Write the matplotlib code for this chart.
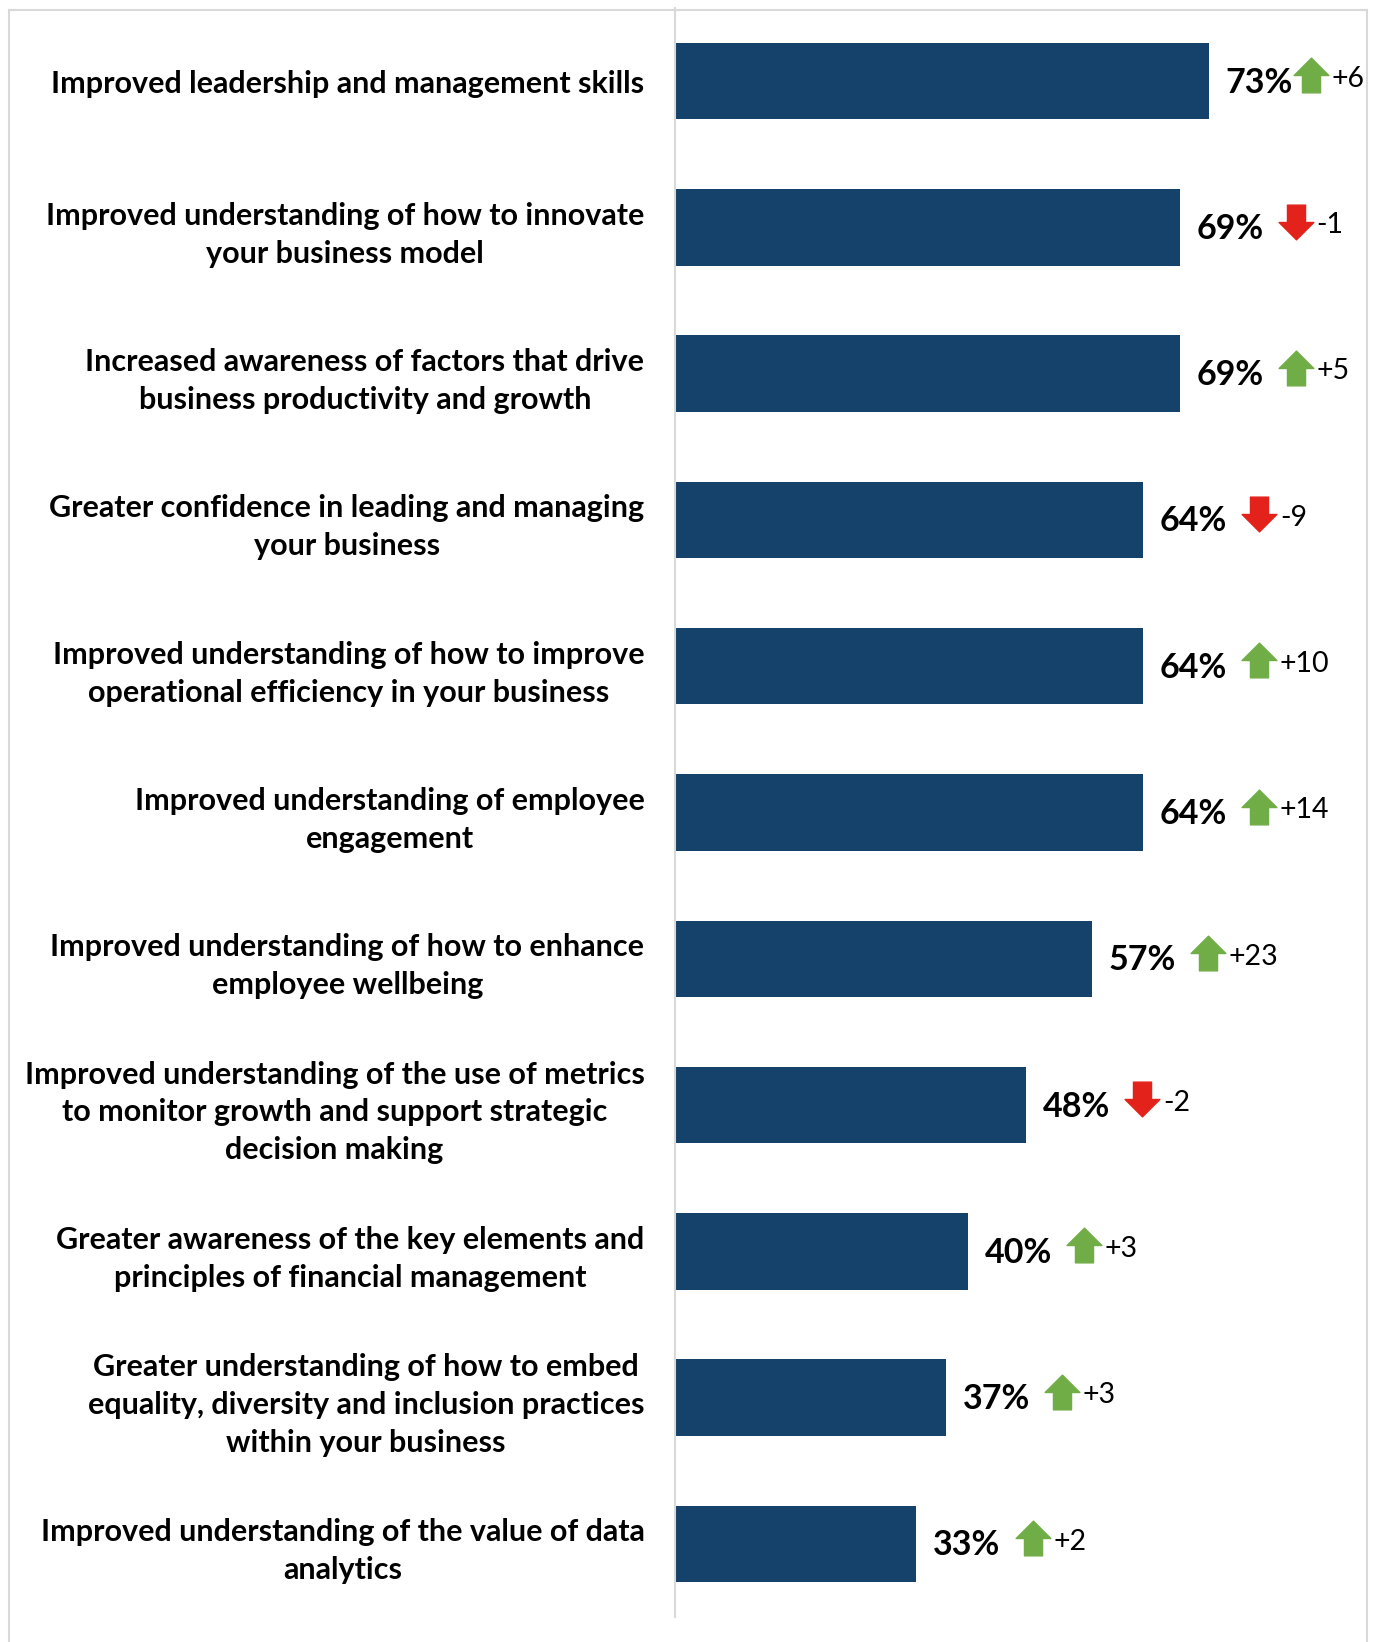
import matplotlib.pyplot as plt
from matplotlib.path import Path
from matplotlib.lines import Line2D

plt.rcParams['font.family'] = ['Lato', 'DejaVu Sans']

categories = [
    "Improved leadership and management skills",
    "Improved understanding of how to innovate\nyour business model",
    "Increased awareness of factors that drive\nbusiness productivity and growth",
    "Greater confidence in leading and managing\nyour business",
    "Improved understanding of how to improve\noperational efficiency in your business",
    "Improved understanding of employee\nengagement",
    "Improved understanding of how to enhance\nemployee wellbeing",
    "Improved understanding of the use of metrics\nto monitor growth and support strategic\ndecision making",
    "Greater awareness of the key elements and\nprinciples of financial management",
    "Greater understanding of how to embed\nequality, diversity and inclusion practices\nwithin your business",
    "Improved understanding of the value of data\nanalytics",
]
values = [73, 69, 69, 64, 64, 64, 57, 48, 40, 37, 33]
changes = [6, -1, 5, -9, 10, 14, 23, -2, 3, 3, 2]

BAR = "#15426A"
UP = "#70AD47"
DOWN = "#E3221B"
GRID = "#D9D9D9"

# block arrow markers (head on top half, shaft below)
up_verts = [(-0.26, -0.5), (0.26, -0.5), (0.26, 0.0), (0.5, 0.0), (0.0, 0.5),
            (-0.5, 0.0), (-0.26, 0.0), (-0.26, -0.5)]
up_arrow = Path(up_verts, closed=True)
down_arrow = Path([(x, -y) for x, y in up_verts], closed=True)

fig = plt.figure(figsize=(13.75, 16.42), dpi=100)
ax = fig.add_axes([675 / 1375, 1 - 1617 / 1642, 692 / 1375, 1609 / 1642])

y = list(range(len(values)))
ax.barh(y, values, height=0.523, color=BAR)
ax.set_ylim(len(values) - 0.5, -0.5)
ax.set_xlim(0, 692 / 7.315)

ax.set_yticks(y)
ax.set_yticklabels(categories, fontsize=22, fontweight='bold')
for lab in ax.get_yticklabels():
    lab.set_multialignment('center')
    lab.set_linespacing(1.43)
ax.tick_params(axis='y', length=0, pad=22)
ax.set_xticks([])
for s in ['top', 'right', 'bottom']:
    ax.spines[s].set_visible(False)
ax.spines['left'].set_color(GRID)
ax.spines['left'].set_linewidth(1.5)

for i, (v, c) in enumerate(zip(values, changes)):
    ax.text(v + 2.3, i + 0.01, f"{v}%", va='center', ha='left',
            fontsize=24.5, fontweight='bold', color='black')
    # arrow sits after the value label, kept inside the frame for the longest bar
    xa = min(v + 15.9, 87.0)
    ax.plot(xa, i - 0.04, marker=up_arrow if c > 0 else down_arrow,
            markersize=25, color=UP if c > 0 else DOWN, linestyle='none')
    ax.text(xa + 2.8, i - 0.015, f"{c:+d}", va='center', ha='left',
            fontsize=20.5, color='black')

# outer frame (open at the bottom)
fx0, fx1, fy1 = 8.5 / 1375, 1367 / 1375, 1 - 10.5 / 1642
for xs, ys in [([fx0, fx0], [0, fy1]), ([fx0, fx1], [fy1, fy1]), ([fx1, fx1], [0, fy1])]:
    fig.add_artist(Line2D(xs, ys, color=GRID, linewidth=1.5, transform=fig.transFigure))

fig.savefig("out.png", dpi=100)
